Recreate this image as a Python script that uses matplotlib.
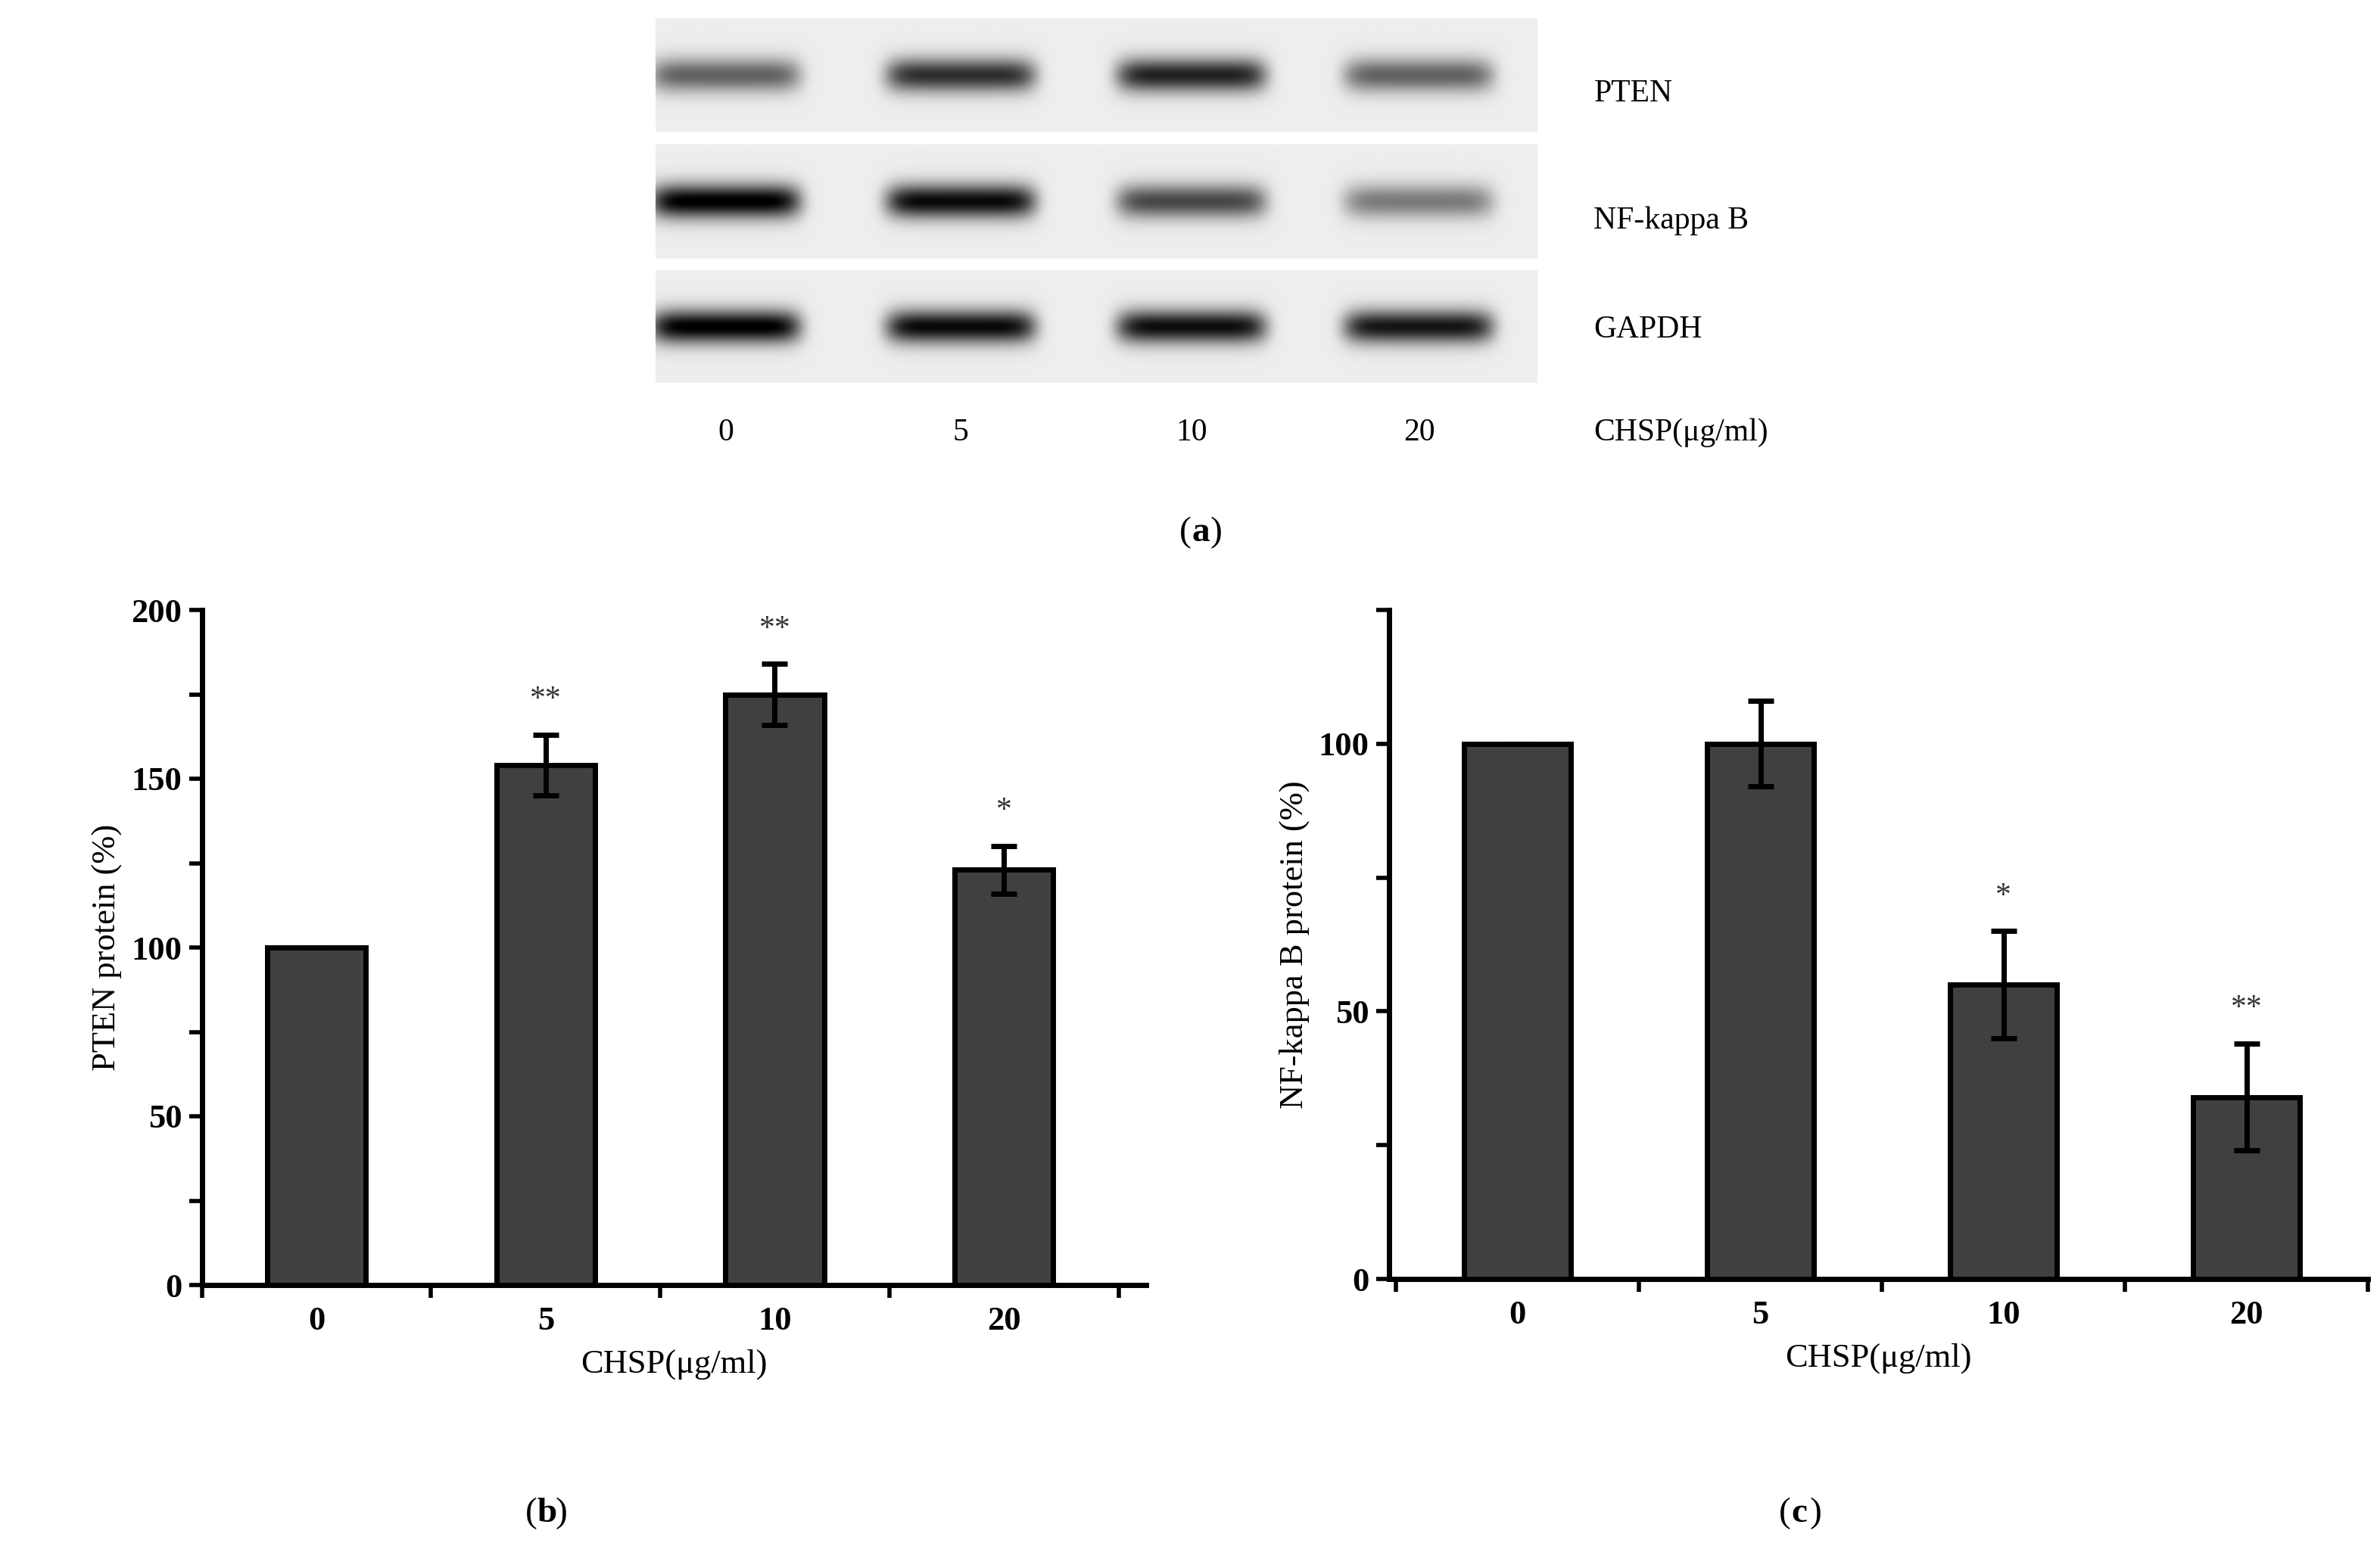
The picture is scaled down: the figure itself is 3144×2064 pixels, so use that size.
import numpy as np
import matplotlib.pyplot as plt

plt.rcParams['font.family'] = ['Liberation Serif', 'DejaVu Serif']

doses = ['0', '5', '10', '20']
pten_mean = [100, 154, 175, 123]
pten_err = [0, 9, 9, 7]
pten_sig = ['', '**', '**', '*']
nf_mean = [100, 100, 55, 34]
nf_err = [0, 8, 10, 10]
nf_sig = ['', '', '*', '**']

# band darkness per lane for the blot strips
blot_names = ['PTEN', 'NF-kappa B', 'GAPDH']
blot_dark = [[0.55, 0.75, 0.8, 0.55],
             [0.95, 0.9, 0.65, 0.45],
             [0.95, 0.9, 0.88, 0.85]]
lane_pos = [0.079, 0.346, 0.608, 0.866]

fig = plt.figure(figsize=(15.72, 10.32), dpi=200)
W, H = 1568, 1032

# (a) blot
axa = fig.add_axes([432 / W, 1 - 253 / H, 581 / W, 241 / H])
nx, ny = 580, 240
xs = np.linspace(0, 1, nx)
img = np.ones((ny, nx))
strips = [(0, 75), (83, 158), (166, 240)]
for (y0, y1), dark in zip(strips, blot_dark):
    yy = np.linspace(-1, 1, y1 - y0)[:, None]
    strip = np.full((y1 - y0, nx), 0.07)
    for c, d in zip(lane_pos, dark):
        prof = np.exp(-((xs - c) / 0.085) ** 8)
        strip += d * prof[None, :] * np.exp(-(yy / 0.3) ** 2)
    img[y0:y1] = 1 - np.clip(strip, 0, 1)
axa.imshow(img, cmap='gray', vmin=0, vmax=1, aspect='auto')
axa.axis('off')
for name, yc in zip(blot_names, [62, 146, 218]):
    fig.text(1050 / W, 1 - yc / H, name, fontsize=15, va='center')
for lab, xc in zip(doses, [478, 633, 785, 935]):
    fig.text(xc / W, 1 - 286 / H, lab, fontsize=15, va='center', ha='center')
fig.text(1050 / W, 1 - 286 / H, 'CHSP(μg/ml)', fontsize=15, va='center')
fig.text(785 / W, 1 - 352 / H, '(', fontsize=17, va='center', ha='right')
fig.text(785 / W, 1 - 352 / H, 'a', fontsize=17, va='center', ha='left', fontweight='bold')
fig.text(797 / W, 1 - 352 / H, ')', fontsize=17, va='center', ha='left')


def bar_panel(rect, means, errs, sigs, ymax, yticks, ylabel, width, xlim, letter, lx):
    ax = fig.add_axes(rect)
    x = np.arange(len(doses))
    ax.bar(x, means, width=width, color='#404040', edgecolor='black', linewidth=2.5)
    ax.errorbar(x, means, yerr=errs, fmt='none', ecolor='black', elinewidth=2.5,
                capsize=6, capthick=2.5)
    for xi, m, e, s in zip(x, means, errs, sigs):
        if s:
            ax.text(xi, m + e + ymax * 0.03, s, ha='center', va='bottom', fontsize=15, color='#333333')
    ax.set_xlim(*xlim)
    ax.set_ylim(0, ymax)
    ax.set_yticks(yticks)
    ax.set_yticks(np.arange(0, ymax + 1, 25), minor=True)
    ax.set_xticks(x)
    ax.set_xticklabels(doses, fontweight='bold', fontsize=16)
    ax.set_xticks([-0.5, 0.5, 1.5, 2.5, 3.5], minor=True)
    ax.tick_params(axis='x', which='major', length=0, pad=10)
    ax.tick_params(axis='x', which='minor', length=6, width=2, direction='out')
    ax.tick_params(axis='y', which='both', length=6, width=2, direction='out')
    for t in ax.get_yticklabels():
        t.set_fontweight('bold')
        t.set_fontsize(16)
    ax.spines['top'].set_visible(False)
    ax.spines['right'].set_visible(False)
    ax.spines['left'].set_linewidth(2.5)
    ax.spines['bottom'].set_linewidth(2.5)
    ax.set_ylabel(ylabel, fontsize=16)
    ax.set_xlabel('CHSP(μg/ml)', fontsize=16, labelpad=6)
    fig.text(lx / W, 1 - 1000 / H, '(', fontsize=17, va='center', ha='right')
    fig.text(lx / W, 1 - 1000 / H, letter, fontsize=17, va='center', ha='left', fontweight='bold')
    fig.text((lx + 12) / W, 1 - 1000 / H, ')', fontsize=17, va='center', ha='left')
    return ax


bar_panel([133 / W, 1 - 849 / H, 622 / W, 446 / H], pten_mean, pten_err, pten_sig,
          200, [0, 50, 100, 150, 200], 'PTEN protein (%)', 0.43, (-0.5, 3.62), 'b', 354)
bar_panel([915 / W, 1 - 845 / H, 645 / W, 442 / H], nf_mean, nf_err, nf_sig,
          125, [0, 50, 100], 'NF-kappa B protein (%)', 0.44, (-0.53, 3.47), 'c', 1180)

fig.savefig('out.png', dpi=200)
